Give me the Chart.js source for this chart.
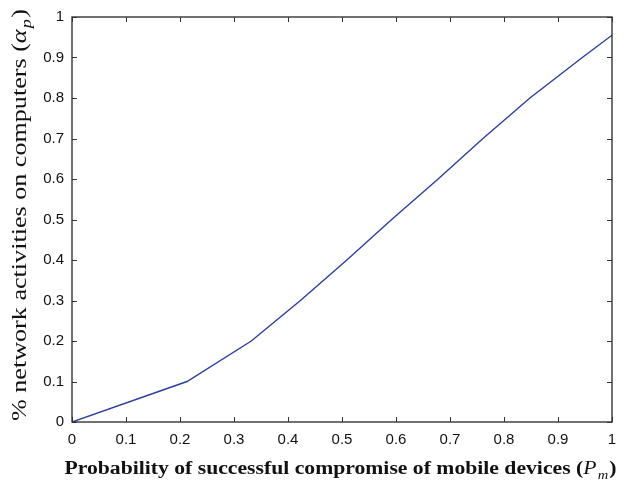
<!DOCTYPE html>
<html><head><meta charset="utf-8">
<script src="https://cdn.jsdelivr.net/npm/chart.js@4"></script>
<style>html,body{margin:0;padding:0;background:#fff}#wrap{width:630px;height:484px}</style>
</head><body><div id="wrap"><canvas id="c" width="630" height="484"></canvas></div>
<script>
const pm = [0, 0.213, 0.332, 0.423, 0.509, 0.592, 0.678, 0.761, 0.848, 0.945, 1.0];
const alphaP = [0, 0.1, 0.2, 0.3, 0.4, 0.5, 0.6, 0.7, 0.8, 0.9, 0.955];
const tickValues = [0, 0.1, 0.2, 0.3, 0.4, 0.5, 0.6, 0.7, 0.8, 0.9, 1];
const xTitle = 'Probability of successful compromise of mobile devices';
const xSym = ['P', 'm'];
const yTitle = '% network activities on computers';
const ySym = ['\u03B1', 'p'];

const boxPlugin = {
  id: 'box',
  afterDraw(chart) {
    const ctx = chart.ctx, a = chart.chartArea;
    const xs = chart.scales.x, ys = chart.scales.y;
    ctx.save();
    ctx.strokeStyle = '#262626';
    ctx.lineWidth = 1.3;
    ctx.strokeRect(a.left, a.top, a.right - a.left, a.bottom - a.top);
    ctx.lineWidth = 1;
    ctx.strokeStyle = '#333';
    const L = 5;
    ctx.beginPath();
    tickValues.forEach(v => {
      const x = Math.round(xs.getPixelForValue(v)) + 0.5;
      ctx.moveTo(x, a.bottom); ctx.lineTo(x, a.bottom - L);
      ctx.moveTo(x, a.top); ctx.lineTo(x, a.top + L);
      const y = Math.round(ys.getPixelForValue(v)) + 0.5;
      ctx.moveTo(a.left, y); ctx.lineTo(a.left + L, y);
      ctx.moveTo(a.right, y); ctx.lineTo(a.right - L, y);
    });
    ctx.stroke();
    ctx.fillStyle = '#111';
    ctx.textBaseline = 'alphabetic';
    const drawTitle = (main, sym, bold, size, targetWidth) => {
      const w = bold ? 'bold ' : '';
      const fMain = w + size + 'px "Liberation Serif"';
      const fIt = 'italic ' + size + 'px "Liberation Serif"';
      const fSub = 'italic ' + Math.round(size * 0.68) + 'px "Liberation Serif"';
      ctx.font = fMain; const w1 = ctx.measureText(main + ' (').width; const w4 = ctx.measureText(')').width;
      ctx.font = fIt; const w2 = ctx.measureText(sym[0]).width + 1;
      ctx.font = fSub; const w3 = ctx.measureText(sym[1]).width + 1;
      const total = w1 + w2 + w3 + w4;
      ctx.scale(targetWidth / total, 1);
      let x = -total / 2;
      ctx.font = fMain; ctx.fillText(main + ' (', x, 0); x += w1;
      ctx.font = fIt; ctx.fillText(sym[0], x, 0); x += w2;
      ctx.font = fSub; ctx.fillText(sym[1], x, size * 0.25); x += w3;
      ctx.font = fMain; ctx.fillText(')', x, 0);
    };
    ctx.save();
    ctx.translate(340.5, 474);
    drawTitle(xTitle, xSym, true, 18, 552);
    ctx.restore();
    ctx.save();
    ctx.translate(26, 215);
    ctx.rotate(-Math.PI / 2);
    drawTitle(yTitle, ySym, false, 20, 412);
    ctx.restore();
    ctx.restore();
  }
};

new Chart(document.getElementById('c'), {
  type: 'line',
  data: {
    datasets: [{
      data: pm.map((x, i) => ({ x: x, y: alphaP[i] })),
      borderColor: '#2b3da0',
      borderWidth: 1.4,
      pointRadius: 0,
      tension: 0,
      fill: false
    }]
  },
  options: {
    responsive: false,
    animation: false,
    devicePixelRatio: 1,
    layout: { padding: { left: 0, top: 14, right: 18, bottom: 0 } },
    plugins: { legend: { display: false }, tooltip: { enabled: false } },
    scales: {
      x: {
        type: 'linear', min: 0, max: 1,
        afterFit: s => { s.height = 62; },
        afterBuildTicks: s => { s.ticks = tickValues.map(v => ({ value: v })); },
        grid: { display: false, drawTicks: false },
        border: { display: false },
        ticks: {
          padding: 9, maxRotation: 0, autoSkip: false, color: '#111',
          font: { family: 'Liberation Sans', size: 15 },
          callback: v => String(Math.round(v * 10) / 10)
        }
      },
      y: {
        type: 'linear', min: 0, max: 1,
        afterFit: s => { s.width = 72; },
        afterBuildTicks: s => { s.ticks = tickValues.map(v => ({ value: v })); },
        grid: { display: false, drawTicks: false },
        border: { display: false },
        ticks: {
          padding: 8, autoSkip: false, color: '#111',
          font: { family: 'Liberation Sans', size: 15 },
          callback: v => String(Math.round(v * 10) / 10)
        }
      }
    }
  },
  plugins: [boxPlugin]
});
</script></body></html>
